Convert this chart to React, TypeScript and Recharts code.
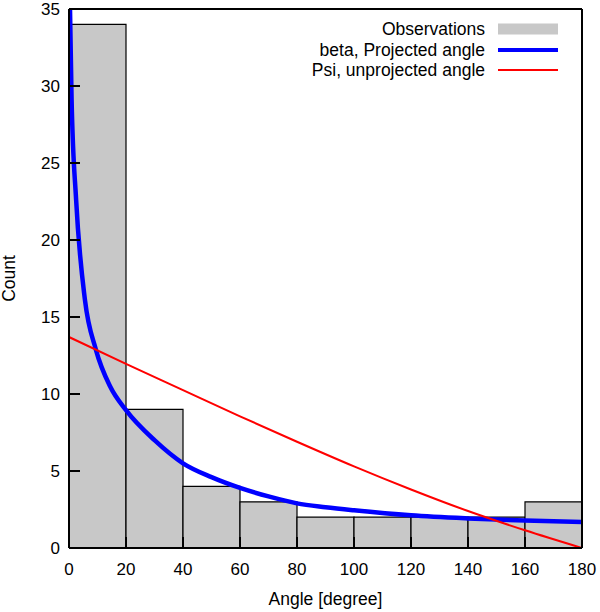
import React from 'react';
import { ComposedChart, Bar, Line, XAxis, YAxis, Legend } from 'recharts';

const FONT = '"Liberation Sans", Arial, Helvetica, sans-serif';

// histogram of observed angles, 20 degree bins
const binLabels = ['0-20', '20-40', '40-60', '60-80', '80-100', '100-120', '120-140', '140-160', '160-180'];
const binCounts = [34, 9, 4, 3, 2, 2, 2, 2, 3];

// beta, projected angle model
const betaAngles = [0.35, 0.9, 2.5, 5.6, 9.4, 14.4, 20, 30, 40, 50, 60, 70, 80, 90, 100, 120, 140, 160, 180];
const betaCounts = [35, 29.2, 22.6, 16.1, 12.9, 10.5, 8.95, 7.0, 5.5, 4.6, 3.9, 3.35, 2.9, 2.65, 2.45, 2.12, 1.92, 1.78, 1.69];

// Psi, unprojected angle model
const psiAngles = [0, 20, 40, 60, 80, 100, 120, 140, 160, 180];
const psiCounts = [13.7, 11.95, 10.25, 8.55, 6.9, 5.3, 3.8, 2.4, 1.15, 0];

const xTicks = [0, 20, 40, 60, 80, 100, 120, 140, 160, 180];
const yTicks = [0, 5, 10, 15, 20, 25, 30, 35];

const seriesNames = ['Observations', 'beta, Projected angle', 'Psi, unprojected angle'];

const histData = binLabels.map((bin, i) => ({ bin, count: binCounts[i] }));
const betaData = betaAngles.map((angle, i) => ({ angle, count: betaCounts[i] }));
const psiData = psiAngles.map((angle, i) => ({ angle, count: psiCounts[i] }));

const AXIS = { stroke: '#000', strokeWidth: 2 };
const TICK = { fill: '#000', fontSize: 17, fontFamily: FONT };
const LINE_WIDTH: Record<string, number> = { 'beta, Projected angle': 4, 'Psi, unprojected angle': 2 };

const CountLabel = (props: any) => {
  const vb = props.viewBox;
  const x = vb.x + 15;
  const y = vb.y + vb.height / 2;
  return (
    <text x={x} y={y} transform={`rotate(-90, ${x}, ${y})`} textAnchor="middle" fill="#000" fontSize={17.5} fontFamily={FONT}>
      Count
    </text>
  );
};

const LegendBox = ({ payload }: any) => {
  const items = [...(payload || [])].sort((a: any, b: any) => seriesNames.indexOf(a.value) - seriesNames.indexOf(b.value));
  return (
    <div style={{ fontFamily: FONT, fontSize: 17.5, color: '#000' }}>
      {items.map((entry: any) => (
        <div key={entry.value} style={{ display: 'flex', justifyContent: 'flex-end', alignItems: 'center', height: 20.5, lineHeight: '20.5px' }}>
          <span>{entry.value}</span>
          <svg width={60} height={12} style={{ marginLeft: 13 }}>
            {entry.type === 'rect' ? (
              <rect x={0} y={0.5} width={60} height={11} fill={entry.color} />
            ) : (
              <line x1={0} x2={60} y1={6} y2={6} stroke={entry.color} strokeWidth={LINE_WIDTH[entry.value] || 2} />
            )}
          </svg>
        </div>
      ))}
    </div>
  );
};

export default function App() {
  return (
    <div style={{ position: 'absolute', left: 0, top: 0, background: '#fff' }}>
      <ComposedChart width={600} height={612} data={histData} barCategoryGap={0} barGap={0} margin={{ top: 8, right: 17, bottom: 0, left: 0 }}>
        <XAxis xAxisId="bins" dataKey="bin" type="category" hide />
        <XAxis
          xAxisId="angle"
          type="number"
          dataKey="angle"
          domain={[0, 180]}
          ticks={xTicks}
          interval={0}
          allowDataOverflow
          height={64}
          tickSize={-11}
          tickMargin={26}
          axisLine={AXIS}
          tickLine={AXIS}
          tick={TICK}
          label={{ value: 'Angle [degree]', position: 'insideBottom', offset: 7, fill: '#000', fontSize: 17.5, fontFamily: FONT }}
        />
        <XAxis xAxisId="top" type="number" orientation="top" domain={[0, 180]} ticks={xTicks} interval={0} allowDataOverflow height={1} tickSize={-11} tick={false} axisLine={AXIS} tickLine={AXIS} />
        <YAxis
          yAxisId="count"
          type="number"
          domain={[0, 35]}
          ticks={yTicks}
          interval={0}
          allowDataOverflow
          width={69}
          tickSize={-11}
          tickMargin={20}
          axisLine={AXIS}
          tickLine={AXIS}
          tick={TICK}
          label={{ content: CountLabel }}
        />
        <YAxis yAxisId="right" type="number" orientation="right" domain={[0, 35]} ticks={yTicks} interval={0} allowDataOverflow width={1} tickSize={-11} tick={false} axisLine={AXIS} tickLine={AXIS} />
        <Legend layout="vertical" align="center" verticalAlign="middle" content={<LegendBox />} wrapperStyle={{ top: 19, left: 0, width: 558, margin: 0 }} />
        <Bar xAxisId="bins" yAxisId="count" dataKey="count" name="Observations" legendType="rect" fill="#c8c8c8" stroke="#000" strokeWidth={1.2} isAnimationActive={false} />
        <Line xAxisId="angle" yAxisId="count" data={betaData} dataKey="count" name="beta, Projected angle" legendType="line" type="monotone" stroke="#0000ff" strokeWidth={4.5} dot={false} activeDot={false} isAnimationActive={false} />
        <Line xAxisId="angle" yAxisId="count" data={psiData} dataKey="count" name="Psi, unprojected angle" legendType="line" type="monotone" stroke="#ff0000" strokeWidth={2} dot={false} activeDot={false} isAnimationActive={false} />
      </ComposedChart>
    </div>
  );
}
